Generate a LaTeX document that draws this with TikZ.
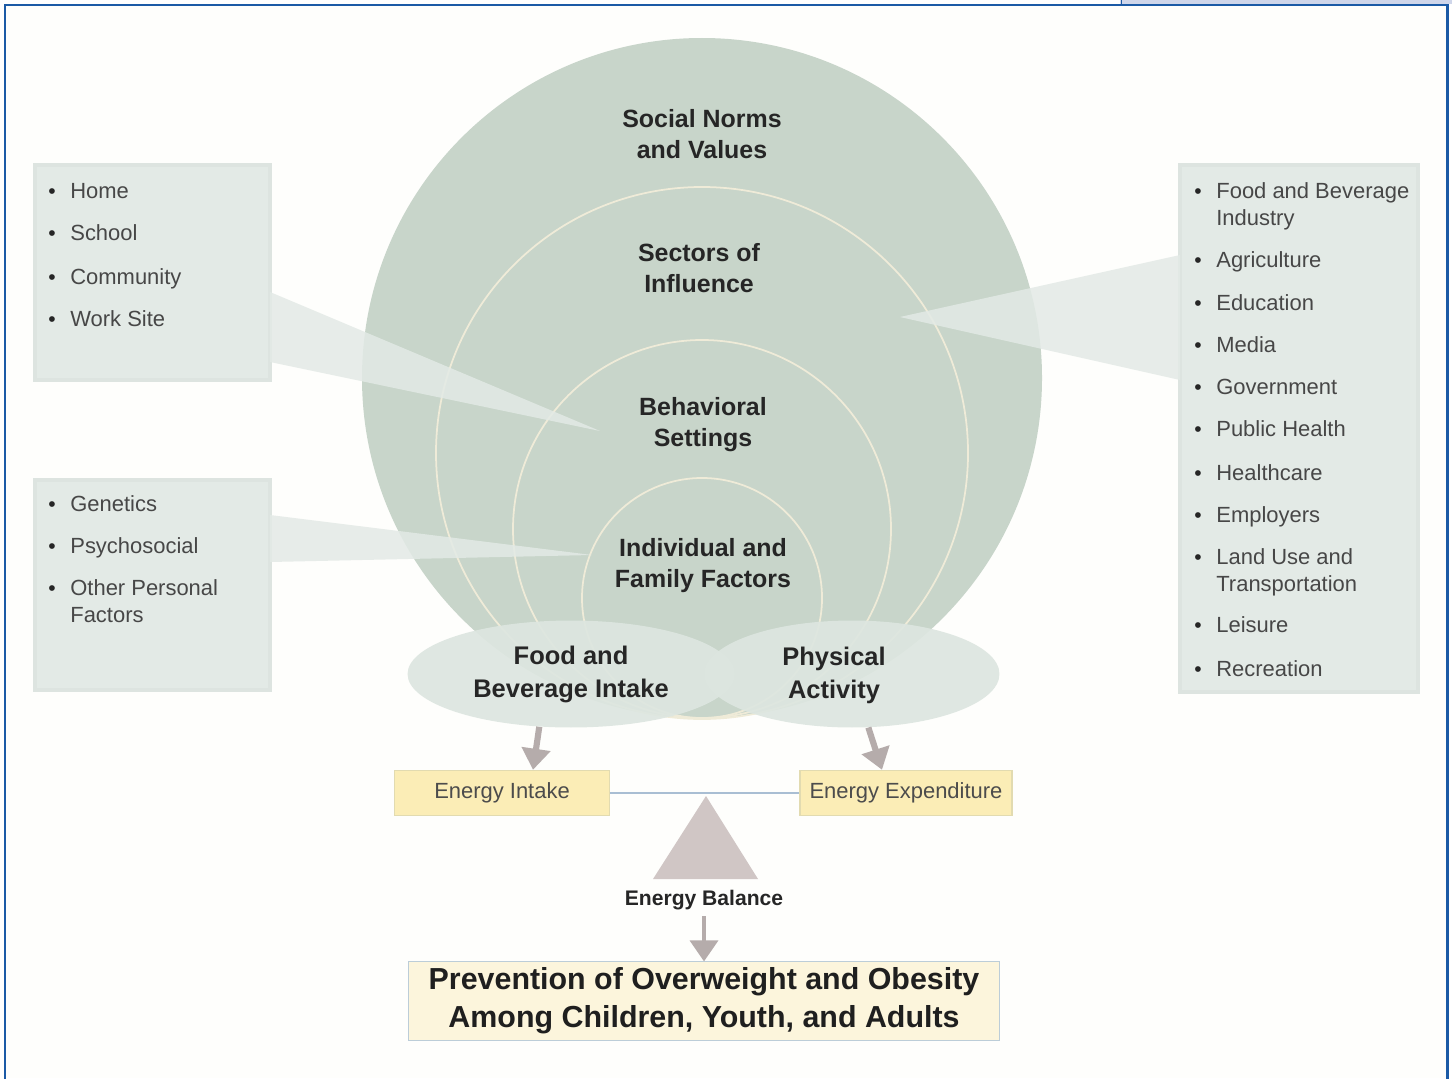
\documentclass[tikz,border=0pt]{standalone}
\usepackage{fontspec}
\setmainfont{Liberation Sans}
\usetikzlibrary{calc,arrows.meta,shapes.geometric}

\definecolor{frameblue}{HTML}{1B5AA6}
\definecolor{tabblue}{HTML}{CFD6EA}
\definecolor{paper}{HTML}{FEFEFC}
\definecolor{ringgreen}{HTML}{C8D5CA}
\definecolor{ringline}{HTML}{EFEBD8}
\definecolor{boxgreen}{HTML}{E3EAE6}
\definecolor{boxedge}{HTML}{DDE4E0}
\definecolor{ovalgreen}{HTML}{DDE6E0}
\definecolor{energyyellow}{HTML}{FBEDB6}
\definecolor{energyedge}{HTML}{E2DBB0}
\definecolor{goalyellow}{HTML}{FCF5DC}
\definecolor{goaledge}{HTML}{BCCDD8}
\definecolor{fulcrum}{HTML}{D0C6C5}
\definecolor{beamblue}{HTML}{A9BED3}
\definecolor{arrowgray}{HTML}{B5ACAB}

\tikzset{
  ringlabel/.style={font=\bfseries\fontsize{14.2}{17.6}\selectfont, align=center, text=black!85, inner sep=0pt},
  listbox/.style={fill=boxgreen, draw=boxedge, line width=2pt},
  wedge/.style={fill=boxgreen, fill opacity=0.85},
  itemtext/.style={anchor=north west, align=left, inner sep=0pt, font=\fontsize{12.5}{15}\selectfont, text=black!72},
  itemdot/.style={anchor=north, inner sep=0pt, font=\fontsize{12}{15}\selectfont, text=black!85},
  oval/.style={ellipse, fill=ovalgreen, fill opacity=0.92, text opacity=1, minimum height=2.14cm,
    font=\bfseries\fontsize{14.5}{18.8}\selectfont, align=center, text=black!85},
  ovaltext/.style={font=\bfseries\fontsize{14.5}{18.8}\selectfont, align=center, text=black!85},
  energybox/.style={fill=energyyellow, draw=energyedge, line width=0.8pt, minimum height=0.9cm,
    font=\fontsize{12.5}{15}\selectfont, text=black!70},
  flow/.style={draw=arrowgray, line width=3.5pt, -{Triangle[width=16pt,length=12pt]}},
}

\begin{document}
\begin{tikzpicture}[x=0.02cm, y=-0.02cm]
  %%%%% START %%%%%
  \useasboundingbox (0,0) rectangle (1452,1078);

  % page frame
  \fill[paper] (5,5) rectangle (1447,1078);
  \fill[tabblue] (1120,-2) rectangle (1452,4);
  \draw[frameblue, line width=0.5pt] (1121,-2) -- (1121,4);
  \draw[frameblue, line width=1.7pt] (5,1090) -- (5,5) -- (1447,5) -- (1447,1090);

  % nested rings
  \fill[ringgreen] (702,378) circle (340);
  \draw[ringline, line width=1pt] (702,453) circle (266);
  \draw[ringline, line width=1pt] (702,529) circle (189);
  \draw[ringline, line width=1pt] (702,598) circle (120);

  \node[ringlabel] (norms) at (702,134) {Social Norms\\and Values};
  \node[ringlabel] (sectors) at (699,268) {Sectors of\\Influence};
  \node[ringlabel] (settings) at (703,425) {Behavioral\\Settings};
  \node[ringlabel] (individual) at (703,566) {Individual and\\Family Factors};

  % list boxes and their pointers
  \draw[listbox] (35,165) rectangle (270,380);
  \draw[listbox] (35,480) rectangle (270,690);
  \draw[listbox] (1180,165) rectangle (1418,692);

  \fill[wedge] (270,292) -- (600,431) -- (270,362) -- cycle;
  \fill[wedge] (270,515) -- (592,555) -- (270,562) -- cycle;
  \fill[wedge] (1180,255) -- (900,317) -- (1180,380) -- cycle;

  \foreach \txt/\y [count=\i] in {Home/180, School/222, Community/266, Work Site/308} {
    \node[itemtext] (setting\i) at (70,\y) {\strut\txt};
    \node[itemdot] (settingdot\i) at (52,\y) {\strut\textbullet};
  }
  \foreach \txt/\y [count=\i] in {Genetics/493, Psychosocial/535, {Other Personal\\Factors}/577} {
    \node[itemtext] (person\i) at (70,\y) {\strut\txt};
    \node[itemdot] (persondot\i) at (52,\y) {\strut\textbullet};
  }
  \foreach \txt/\y [count=\i] in {{Food and Beverage\\Industry}/180, Agriculture/249, Education/292,
      Media/334, Government/376, Public Health/418, Healthcare/462, Employers/504,
      {Land Use and\\Transportation}/546, Leisure/614, Recreation/658} {
    \node[itemtext] (sector\i) at (1216,\y) {\strut\txt};
    \node[itemdot] (sectordot\i) at (1198,\y) {\strut\textbullet};
  }

  % behaviours
  \node[oval, minimum width=6.54cm] (food) at (571,674) {Food and\\Beverage Intake};
  \node[oval, minimum width=5.9cm] (activity) at (852,674) {};
  \node[ovaltext] (activitytext) at (834,675) {Physical\\Activity};

  % balance
  \node[energybox, minimum width=4.3cm] (intake) at (502,793) {Energy Intake};
  \node[energybox, minimum width=4.24cm] (expend) at (906,793) {Energy Expenditure};
  \draw[beamblue, line width=1.2pt] (intake.east) -- (expend.west);
  \fill[fulcrum] (706,796) -- (758,879) -- (653,879) -- cycle;

  \draw[flow] (food.239) -- ($(intake.north)+(31,0)$);
  \draw[flow] (activity.287) -- ($(expend.north)+(-24,0)$);

  \node[font=\bfseries\fontsize{12}{14}\selectfont, text=black!85] (balance) at (704,900) {Energy Balance};
  \node[fill=goalyellow, draw=goaledge, line width=0.6pt, minimum width=11.84cm, minimum height=1.56cm,
    align=center, font=\bfseries\fontsize{17.3}{21.6}\selectfont, text=black!88] (goal) at (704,1001)
    {Prevention of Overweight and Obesity\\Among Children, Youth, and Adults};
  \draw[flow, line width=2pt] (balance.south) -- (goal.north);

  %%%%% END %%%%%
\end{tikzpicture}
\end{document}
